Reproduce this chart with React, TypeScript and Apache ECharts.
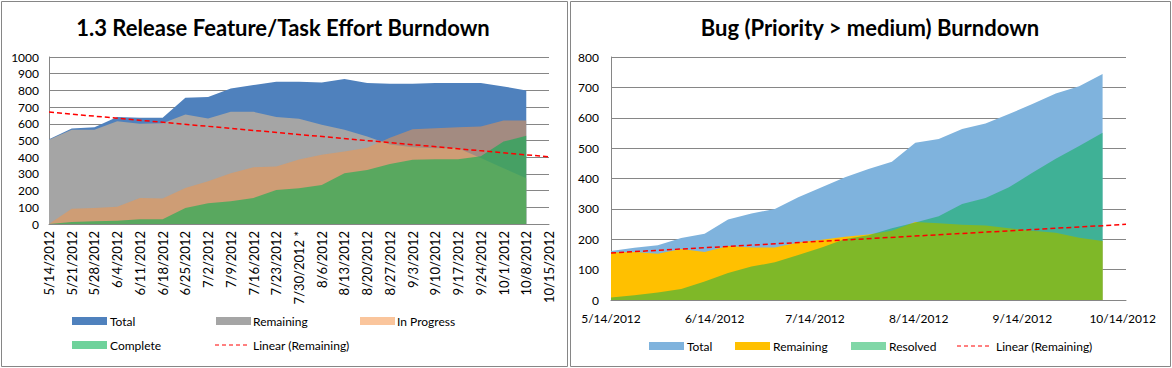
import React, { useEffect, useRef } from 'react';
import * as echarts from 'echarts';

// ---------- Left chart data ----------
const leftCategories = [
  '5/14/2012', '5/21/2012', '5/28/2012', '6/4/2012', '6/11/2012', '6/18/2012', '6/25/2012',
  '7/2/2012', '7/9/2012', '7/16/2012', '7/23/2012', '7/30/2012 *', '8/6/2012', '8/13/2012',
  '8/20/2012', '8/27/2012', '9/3/2012', '9/10/2012', '9/17/2012', '9/24/2012', '10/1/2012',
  '10/8/2012', '10/15/2012',
];
const leftTotal = [508, 572, 580, 640, 636, 636, 756, 760, 812, 832, 852, 852, 848, 868, 844, 840, 840, 844, 844, 844, 824, 800];
const leftRemaining = [505, 564, 564, 616, 600, 604, 656, 632, 672, 672, 640, 630, 594, 564, 524, 476, 460, 454, 454, 395, 334, 274];
const leftInProgress = [0, 92, 96, 104, 156, 152, 216, 256, 304, 340, 344, 386, 414, 434, 456, 516, 568, 574, 580, 584, 620, 620];
const leftComplete = [0, 12, 16, 20, 28, 28, 96, 124, 136, 156, 204, 214, 234, 304, 324, 360, 384, 388, 388, 405, 494, 528];
const leftTrendEnds = [670, 402]; // Linear (Remaining) at first and last category

// ---------- Right chart data ----------
const rightDates = [
  '2012-05-14', '2012-05-21', '2012-05-28', '2012-06-04', '2012-06-11', '2012-06-18', '2012-06-25',
  '2012-07-02', '2012-07-09', '2012-07-16', '2012-07-23', '2012-07-30', '2012-08-06', '2012-08-13',
  '2012-08-20', '2012-08-27', '2012-09-03', '2012-09-10', '2012-09-17', '2012-09-24', '2012-10-01',
  '2012-10-08',
];
const rightTotal = [161, 172, 180, 204, 218, 265, 285, 300, 338, 371, 404, 431, 455, 518, 530, 563, 581, 612, 645, 680, 704, 744];
const rightRemaining = [156, 158, 152, 168, 158, 178, 173, 173, 189, 198, 208, 216, 228, 257, 253, 248, 245, 236, 228, 221, 205, 194];
const rightResolved = [8, 16, 25, 36, 61, 89, 110, 124, 148, 173, 201, 213, 236, 255, 276, 316, 336, 371, 419, 465, 507, 551];
const rightTrendDates = ['2012-05-14', '2012-10-15'];
const rightTrendValues = [155, 249];
const rightAxisRange = ['2012-05-14', '2012-10-15'];
const rightLabelDates = ['2012-05-14', '2012-06-14', '2012-07-14', '2012-08-14', '2012-09-14', '2012-10-14'];

const FONT = 'Lato, "Open Sans", sans-serif';
const GRID = '#868686';
const DAY = 86400000;

const ts = (s: string) => Date.UTC(+s.slice(0, 4), +s.slice(5, 7) - 1, +s.slice(8, 10));
const BASE = ts(rightAxisRange[0]);
const dayOf = (s: string) => Math.round((ts(s) - BASE) / DAY);

function areaSeries(name: string, data: any[], color: string, xIndex: number) {
  return {
    name,
    type: 'line',
    xAxisIndex: xIndex,
    yAxisIndex: xIndex,
    data,
    symbol: 'none',
    silent: true,
    lineStyle: { width: 0, opacity: 0 },
    areaStyle: { color, opacity: 1 },
    emphasis: { disabled: true },
  };
}

function legendRect(x: number, y: number, fill: string) {
  return { type: 'rect', shape: { x, y: y - 4, width: 35, height: 8 }, style: { fill }, silent: true };
}
function legendText(x: number, y: number, text: string) {
  return {
    type: 'text',
    x,
    y,
    style: { text, font: `12px ${FONT}`, fill: '#000', verticalAlign: 'middle', align: 'left' },
    silent: true,
  };
}
function legendDash(x: number, y: number) {
  return {
    type: 'line',
    shape: { x1: x, y1: y, x2: x + 33, y2: y },
    style: { stroke: '#FF0000', lineWidth: 1, lineDash: [4, 3] },
    silent: true,
  };
}

export default function App() {
  const ref = useRef<HTMLDivElement>(null);
  useEffect(() => {
    document.body.style.margin = '0';
    const chart = echarts.init(ref.current!, null, { renderer: 'svg' });
    const fmtDay = (v: number) => {
      const d = new Date(BASE + v * DAY);
      return `${d.getUTCMonth() + 1}/${d.getUTCDate()}/${d.getUTCFullYear()}`;
    };
    const leftTrend = leftCategories.map((_, i) =>
      i === 0 ? leftTrendEnds[0] : i === leftCategories.length - 1 ? leftTrendEnds[1] : null
    );
    chart.setOption({
      animation: false,
      textStyle: { fontFamily: FONT },
      grid: [
        { left: 49, right: 1172 - 549, top: 57, bottom: 368 - 224 },
        { left: 611, right: 1172 - 1126, top: 57, bottom: 368 - 300 },
      ],
      xAxis: [
        {
          type: 'category',
          gridIndex: 0,
          data: leftCategories,
          boundaryGap: false,
          axisLine: { lineStyle: { color: GRID } },
          axisTick: { show: false },
          axisLabel: { rotate: 90, interval: 0, fontSize: 13, color: '#000', margin: 7, fontFamily: FONT },
          splitLine: { show: false },
        },
        {
          type: 'value',
          gridIndex: 1,
          min: 0,
          max: dayOf(rightAxisRange[1]),
          axisLine: { lineStyle: { color: GRID } },
          axisTick: { show: false },
          axisLabel: {
            customValues: rightLabelDates.map(dayOf),
            formatter: (v: number) => fmtDay(v),
            fontSize: 12,
            color: '#000',
            margin: 12,
            fontFamily: FONT,
          },
          splitLine: { show: false },
        },
      ],
      yAxis: [
        {
          type: 'value',
          gridIndex: 0,
          min: 0,
          max: 1000,
          interval: 100,
          axisLine: { show: true, lineStyle: { color: GRID } },
          axisTick: { show: false },
          axisLabel: { fontSize: 12, color: '#000', margin: 10, fontFamily: FONT, formatter: (v: number) => String(v) },
          splitLine: { lineStyle: { color: GRID, width: 1 } },
        },
        {
          type: 'value',
          gridIndex: 1,
          min: 0,
          max: 800,
          interval: 100,
          axisLine: { show: true, lineStyle: { color: GRID } },
          axisTick: { show: false },
          axisLabel: { fontSize: 12, color: '#000', margin: 12, fontFamily: FONT, formatter: (v: number) => String(v) },
          splitLine: { lineStyle: { color: GRID, width: 1 } },
        },
      ],
      series: [
        areaSeries('Total', leftTotal, '#4F81BD', 0),
        areaSeries('Remaining', leftRemaining, '#A5A5A5', 0),
        areaSeries('In Progress', leftInProgress, 'rgba(247,150,70,0.5)', 0),
        areaSeries('Complete', leftComplete, 'rgba(0,176,80,0.57)', 0),
        {
          name: 'Linear (Remaining)',
          type: 'line',
          xAxisIndex: 0,
          yAxisIndex: 0,
          data: leftTrend,
          connectNulls: true,
          symbol: 'none',
          silent: true,
          lineStyle: { color: '#FF0000', width: 1.5, type: [5, 3] },
          z: 5,
        },
        areaSeries('Total ', rightDates.map((d, i) => [dayOf(d), rightTotal[i]]), '#7FB3DD', 1),
        areaSeries('Remaining ', rightDates.map((d, i) => [dayOf(d), rightRemaining[i]]), '#FFC000', 1),
        areaSeries('Resolved', rightDates.map((d, i) => [dayOf(d), rightResolved[i]]), 'rgba(0,176,80,0.5)', 1),
        {
          name: 'Linear (Remaining) ',
          type: 'line',
          xAxisIndex: 1,
          yAxisIndex: 1,
          data: rightTrendDates.map((d, i) => [dayOf(d), rightTrendValues[i]]),
          symbol: 'none',
          silent: true,
          lineStyle: { color: '#FF0000', width: 1.5, type: [5, 3] },
          z: 5,
        },
      ],
      graphic: [
        { type: 'rect', shape: { x: 1.5, y: 1.5, width: 566, height: 365 }, style: { fill: 'none', stroke: GRID, lineWidth: 1 }, silent: true },
        { type: 'rect', shape: { x: 570.5, y: 1.5, width: 600, height: 365 }, style: { fill: 'none', stroke: GRID, lineWidth: 1 }, silent: true },
        {
          type: 'text', x: 283, y: 27,
          style: { text: '1.3 Release Feature/Task Effort Burndown', font: `bold 22px ${FONT}`, fill: '#000', align: 'center', verticalAlign: 'middle' },
          silent: true,
        },
        {
          type: 'text', x: 870, y: 27,
          style: { text: 'Bug (Priority > medium) Burndown', font: `bold 22px ${FONT}`, fill: '#000', align: 'center', verticalAlign: 'middle' },
          silent: true,
        },
        legendRect(72, 321, '#4F81BD'), legendText(110, 321, 'Total'),
        legendRect(216, 321, '#A5A5A5'), legendText(253, 321, 'Remaining'),
        legendRect(360, 321, '#FAC59C'), legendText(397, 321, 'In Progress'),
        legendRect(72, 345, '#6ED29B'), legendText(110, 345, 'Complete'),
        legendDash(215, 345), legendText(253, 345, 'Linear (Remaining)'),
        legendRect(649, 346, '#7FB3DD'), legendText(687, 346, 'Total'),
        legendRect(735, 346, '#FFC000'), legendText(773, 346, 'Remaining'),
        legendRect(851, 346, '#80D7A7'), legendText(889, 346, 'Resolved'),
        legendDash(957, 346), legendText(996, 346, 'Linear (Remaining)'),
      ],
    });
    return () => chart.dispose();
  }, []);
  return <div ref={ref} style={{ width: 1172, height: 368 }} />;
}
